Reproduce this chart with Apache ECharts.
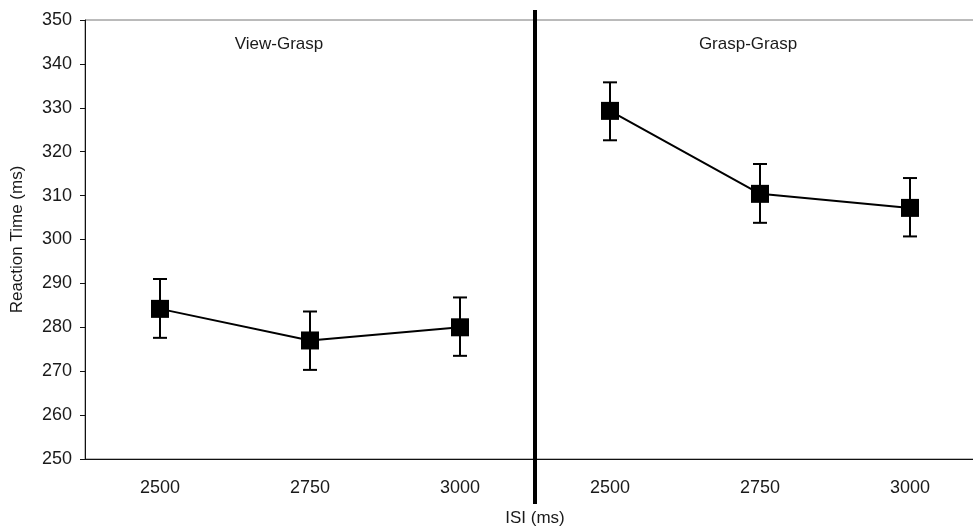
<!DOCTYPE html>
<html>
<head>
<meta charset="utf-8">
<script src="https://cdn.jsdelivr.net/npm/echarts@6/dist/echarts.min.js"></script>
<style>html,body{margin:0;padding:0;background:#fff;overflow:hidden;width:973px;height:532px;}#c{width:990px;height:532px;}</style>
</head>
<body>
<div id="c"></div>
<script>
var categories = ['2500', '2750', '3000', '2500', '2750', '3000'];
var viewGraspMean = [284.2, 277.0, 280.0, '-', '-', '-'];
var graspGraspMean = ['-', '-', '-', 329.3, 310.4, 307.2];
var errLow = [277.6, 270.3, 273.5, 322.6, 303.8, 300.7];
var errHigh = [291.0, 283.6, 286.8, 335.8, 317.2, 314.0];
var panelTitles = ['View-Grasp', 'Grasp-Grasp'];
var yMin = 250, yMax = 350, yStep = 10;

var errData = errLow.map(function (lo, i) { return [i, lo, errHigh[i]]; });

var chart = echarts.init(document.getElementById('c'));
var font = 'Liberation Sans, Arial, sans-serif';
var txt = '#1a1a1a';

chart.setOption({
  animation: false,
  backgroundColor: '#fff',
  grid: { left: 85, top: 20, width: 900, height: 442, show: true, borderColor: '#777', borderWidth: 1, backgroundColor: 'transparent', containLabel: false },
  xAxis: {
    type: 'category',
    data: categories,
    boundaryGap: true,
    name: 'ISI (ms)',
    nameLocation: 'middle',
    nameGap: 51,
    nameTextStyle: { fontFamily: font, fontSize: 17, color: txt },
    axisLine: { lineStyle: { color: '#111', width: 1 } },
    axisTick: { length: 6, lineStyle: { color: '#111' } },
    axisLabel: { fontFamily: font, fontSize: 18, color: txt, margin: 20 },
    splitLine: { show: false }
  },
  yAxis: {
    type: 'value',
    min: yMin, max: yMax, interval: yStep,
    name: 'Reaction Time (ms)',
    nameLocation: 'middle',
    nameGap: 59,
    nameTextStyle: { fontFamily: font, fontSize: 17, color: txt },
    axisLine: { show: true, lineStyle: { color: '#111', width: 1 } },
    axisTick: { show: true, length: 5, lineStyle: { color: '#111' } },
    axisLabel: { fontFamily: font, fontSize: 18, color: txt, margin: 13 },
    splitLine: { show: false }
  },
  series: [
    {
      type: 'custom',
      name: 'divider',
      data: [[0]],
      silent: true,
      z: 5,
      renderItem: function (params, api) {
        var a = api.coord([2, yMax]);
        var b = api.coord([3, yMin]);
        var x = (a[0] + b[0]) / 2;
        return {
          type: 'line',
          shape: { x1: x, y1: a[1] - 10, x2: x, y2: b[1] + 45 },
          style: { stroke: '#000', lineWidth: 4 }
        };
      }
    },
    {
      type: 'custom',
      name: 'err',
      data: errData,
      silent: true,
      z: 3,
      renderItem: function (params, api) {
        var hi = api.coord([api.value(0), api.value(2)]);
        var lo = api.coord([api.value(0), api.value(1)]);
        var w = 7;
        var st = { stroke: '#000', lineWidth: 2 };
        return {
          type: 'group',
          children: [
            { type: 'line', shape: { x1: hi[0], y1: hi[1], x2: lo[0], y2: lo[1] }, style: st },
            { type: 'line', shape: { x1: hi[0] - w, y1: hi[1], x2: hi[0] + w, y2: hi[1] }, style: st },
            { type: 'line', shape: { x1: lo[0] - w, y1: lo[1], x2: lo[0] + w, y2: lo[1] }, style: st }
          ]
        };
      }
    },
    {
      type: 'line', name: panelTitles[0], data: viewGraspMean,
      symbol: 'rect', symbolSize: 18, z: 4,
      itemStyle: { color: '#000' }, lineStyle: { color: '#000', width: 2 }
    },
    {
      type: 'line', name: panelTitles[1], data: graspGraspMean,
      symbol: 'rect', symbolSize: 18, z: 4,
      itemStyle: { color: '#000' }, lineStyle: { color: '#000', width: 2 }
    }
  ]
});

var p1 = chart.convertToPixel({ gridIndex: 0 }, [1, 345]);
var p2 = chart.convertToPixel({ gridIndex: 0 }, [4, 345]);
chart.setOption({
  graphic: [
    { type: 'text', x: p1[0] - 31, y: p1[1] + 2, style: { text: panelTitles[0], font: '17px ' + font, fill: txt, textAlign: 'center', textVerticalAlign: 'middle' } },
    { type: 'text', x: p2[0] - 12, y: p2[1] + 2, style: { text: panelTitles[1], font: '17px ' + font, fill: txt, textAlign: 'center', textVerticalAlign: 'middle' } }
  ]
});
</script>
</body>
</html>
